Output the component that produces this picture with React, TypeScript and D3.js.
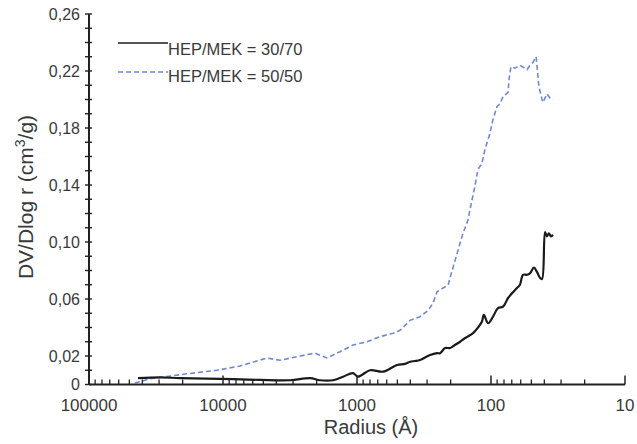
import * as d3 from "d3";

// HEP/MEK = 30/70 (solid black)
const blackRadius = [43100, 29500, 20900, 10500, 5300, 3160, 2240, 1890, 1510, 1270, 1070, 984, 800, 640, 502, 438, 402, 369, 339, 311, 285, 253, 240, 220, 202, 186, 170, 156, 149, 136, 125, 117, 113, 105, 96.6, 88.7, 81.3, 74.6, 69.7, 64, 60.8, 57.7, 53.8, 51.2, 47.8, 45.4, 43, 41.6, 39.5, 38.2, 37, 35.7, 34.4];
const blackValue = [0.0045, 0.005, 0.0045, 0.004, 0.0032, 0.003, 0.0045, 0.003, 0.003, 0.0055, 0.008, 0.0055, 0.01, 0.009, 0.0137, 0.0145, 0.016, 0.0165, 0.0172, 0.019, 0.0207, 0.022, 0.022, 0.0256, 0.0256, 0.0277, 0.03, 0.0326, 0.0336, 0.036, 0.04, 0.044, 0.0488, 0.043, 0.0476, 0.0536, 0.0546, 0.0607, 0.064, 0.0677, 0.07, 0.077, 0.077, 0.078, 0.082, 0.079, 0.0747, 0.074, 0.107, 0.104, 0.106, 0.104, 0.105];

// HEP/MEK = 50/50 (dashed blue)
const blueRadius = [45400, 35100, 18600, 11100, 7470, 4700, 3760, 2660, 2060, 1675, 1340, 1070, 841, 673, 538, 477, 402, 339, 295, 271, 253, 228, 209, 195, 179, 162, 149, 139, 132, 125, 117, 111, 102, 96.6, 90.2, 85.7, 81.3, 74.6, 73.4, 71, 66.2, 60.8, 53.8, 51.2, 48.6, 46.1, 45.4, 43.9, 41.6, 40.9, 38.2, 36.3, 34.4];
const blueValue = [0.001, 0.004, 0.0075, 0.01, 0.013, 0.0186, 0.017, 0.02, 0.022, 0.0186, 0.023, 0.0277, 0.03, 0.0336, 0.036, 0.038, 0.045, 0.0476, 0.052, 0.057, 0.065, 0.0677, 0.0698, 0.08, 0.092, 0.106, 0.115, 0.129, 0.139, 0.151, 0.155, 0.165, 0.176, 0.186, 0.195, 0.197, 0.202, 0.205, 0.214, 0.223, 0.222, 0.224, 0.221, 0.224, 0.226, 0.23, 0.224, 0.209, 0.2, 0.198, 0.204, 0.201, 0.2];

const xTickValues = [100000, 10000, 1000, 100, 10];
const yLabelValues = [0, 0.02, 0.06, 0.1, 0.14, 0.18, 0.22, 0.26];
const legendLabels = ["HEP/MEK = 30/70", "HEP/MEK = 50/50"];

const font = "'Liberation Sans', Arial, sans-serif";
const textColor = "#3a3a3a";
const axisColor = "#222";
const blue = "#7088d8";

export default function App() {
  const width = 637;
  const height = 444;

  const x = d3.scaleLog().domain([100000, 10]).range([89, 625]);
  const y = d3.scaleLinear().domain([0, 0.26]).range([384.5, 14]);

  const comma = d3.formatLocale({ decimal: ",", thousands: ".", grouping: [3], currency: ["", ""] });
  const fmt = (v: number) => (v === 0 ? "0" : comma.format(".2f")(v));

  const line = d3
    .line<[number, number]>()
    .x(d => x(d[0]))
    .y(d => y(d[1]));
  const smoothLine = line.curve(d3.curveCatmullRom.alpha(0.5));

  const blackPts = blackRadius.map((r, i) => [r, blackValue[i]] as [number, number]);
  const bluePts = blueRadius.map((r, i) => [r, blueValue[i]] as [number, number]);
  const blackPath = smoothLine(blackPts) || "";
  const bluePath = d3.line<[number, number]>().x(d => x(d[0])).y(d => y(d[1]))(bluePts) || "";

  // minor log ticks 2..9 in each decade
  const minorX: number[] = [];
  for (let p = 1; p < 5; p++) {
    for (let k = 2; k < 10; k++) minorX.push(k * Math.pow(10, p));
  }
  const yTicks = d3.range(0, 0.2601, 0.01);
  const y0 = y(0);

  return (
    <svg
      width={width}
      height={height}
      style={{ position: "absolute", left: 0, top: 0, background: "#fff" }}
      fontFamily={font}
    >
      {/* data */}
      <path d={bluePath} fill="none" stroke={blue} strokeWidth={1.6} strokeDasharray="5,3" />
      <path d={blackPath} fill="none" stroke="#1a1a1a" strokeWidth={2.2} strokeLinejoin="round" />

      {/* x axis */}
      <line x1={x(100000)} x2={x(10)} y1={y0} y2={y0} stroke={axisColor} strokeWidth={2} />
      {minorX.map(v => (
        <line key={"mx" + v} x1={x(v)} x2={x(v)} y1={y0} y2={y0 - 5} stroke={axisColor} strokeWidth={1.3} />
      ))}
      {xTickValues.map(v => (
        <g key={"xt" + v}>
          <line x1={x(v)} x2={x(v)} y1={y0} y2={y0 - 9} stroke={axisColor} strokeWidth={1.5} />
          <text x={x(v)} y={411} textAnchor="middle" fontSize={17} fill={textColor}>
            {v}
          </text>
        </g>
      ))}
      <text x={371} y={434} textAnchor="middle" fontSize={20} fill={textColor}>
        Radius (Å)
      </text>

      {/* y axis */}
      <line x1={89} x2={89} y1={y(0.26)} y2={y0} stroke={axisColor} strokeWidth={2} />
      {yTicks.map(v => (
        <line key={"yt" + v} x1={85} x2={92} y1={y(v)} y2={y(v)} stroke={axisColor} strokeWidth={1.4} />
      ))}
      {yLabelValues.map(v => (
        <text key={"yl" + v} x={80} y={y(v) + 5.5} textAnchor="end" fontSize={16} fill={textColor}>
          {fmt(v)}
        </text>
      ))}
      <text transform="translate(33,197) rotate(-90)" textAnchor="middle" fontSize={21} fill={textColor}>
        DV/Dlog r (cm
        <tspan fontSize={14} dy={-8}>3</tspan>
        <tspan dy={8}>/g)</tspan>
      </text>

      {/* legend */}
      <line x1={118} x2={168} y1={43} y2={43} stroke="#1a1a1a" strokeWidth={1.5} />
      <text x={168} y={55} fontSize={16.5} fill={textColor}>{legendLabels[0]}</text>
      <line x1={118} x2={168} y1={72} y2={72} stroke={blue} strokeWidth={1.5} strokeDasharray="5,3" />
      <text x={168} y={82} fontSize={16.5} fill={textColor}>{legendLabels[1]}</text>
    </svg>
  );
}
